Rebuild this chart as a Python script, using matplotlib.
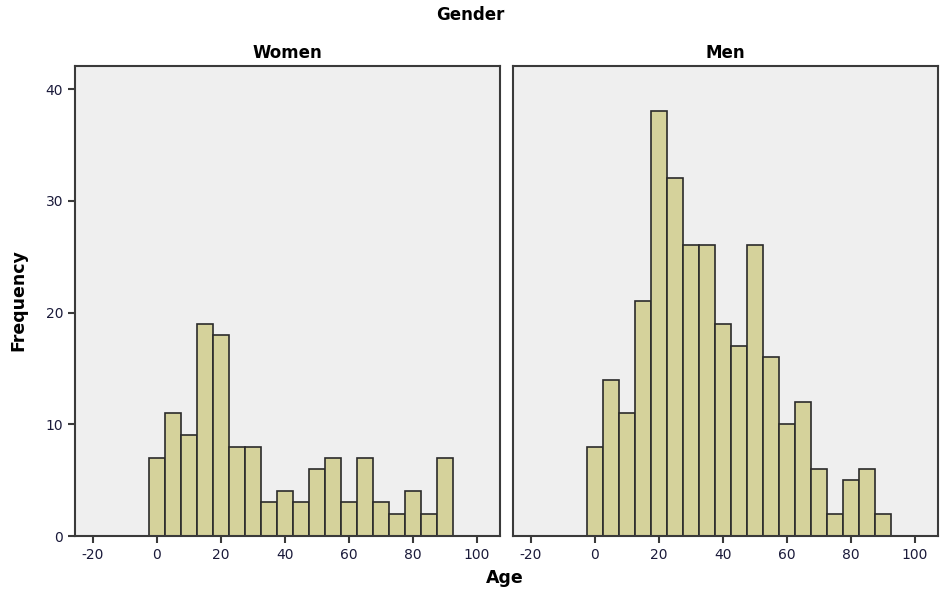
import numpy as np
import matplotlib
matplotlib.use("Agg")
import matplotlib.pyplot as plt

plt.rcParams["axes.unicode_minus"] = False

# bins of width 5 centred on 0, 5, ..., 90
age_centers = list(range(0, 95, 5))
women_counts = [7, 11, 9, 19, 18, 8, 8, 3, 4, 3, 6, 7, 3, 7, 3, 2, 4, 2, 7]
men_counts = [8, 14, 11, 21, 38, 32, 26, 26, 19, 17, 26, 16, 10, 12, 6, 2, 5, 6, 2]
panel_titles = ["Women", "Men"]
x_ticks = [-20, 0, 20, 40, 60, 80, 100]
y_ticks = [0, 10, 20, 30, 40]

bar_color = "#d5d29b"
edge_color = "#2b2b2b"
bg_color = "#efefef"

fig = plt.figure(figsize=(9.4, 5.89), dpi=100)
W, H = 940, 589
ax_left = fig.add_axes([75 / W, 1 - 536 / H, 425 / W, 470 / H])
ax_right = fig.add_axes([513 / W, 1 - 536 / H, 425 / W, 470 / H])

for ax, counts, title in zip([ax_left, ax_right], [women_counts, men_counts], panel_titles):
    ax.set_facecolor(bg_color)
    ax.bar(age_centers, counts, width=5, color=bar_color, edgecolor=edge_color, linewidth=1.2, zorder=2)
    ax.set_xlim(-25.6, 107.2)
    ax.set_ylim(0, 42.06)
    ax.set_xticks(x_ticks)
    ax.set_yticks(y_ticks)
    for s in ax.spines.values():
        s.set_color("#3a3a3a")
        s.set_linewidth(1.5)
    ax.tick_params(direction="out", length=5, width=1.5, color="#3a3a3a",
                   labelsize=10, labelcolor="#1a1a3a")
    ax.set_title(title, fontsize=12, fontweight="bold", pad=6)

ax_right.tick_params(axis="y", left=False, labelleft=False)

fig.text(470 / W, 1 - 15 / H, "Gender", ha="center", va="center", fontsize=12, fontweight="bold")
fig.text(18 / W, 1 - 300 / H, "Frequency", ha="center", va="center", rotation=90,
         fontsize=12.5, fontweight="bold")
fig.text(505 / W, 1 - 578 / H, "Age", ha="center", va="center", fontsize=12.5, fontweight="bold")

fig.savefig("out.png", dpi=100, facecolor="white")
